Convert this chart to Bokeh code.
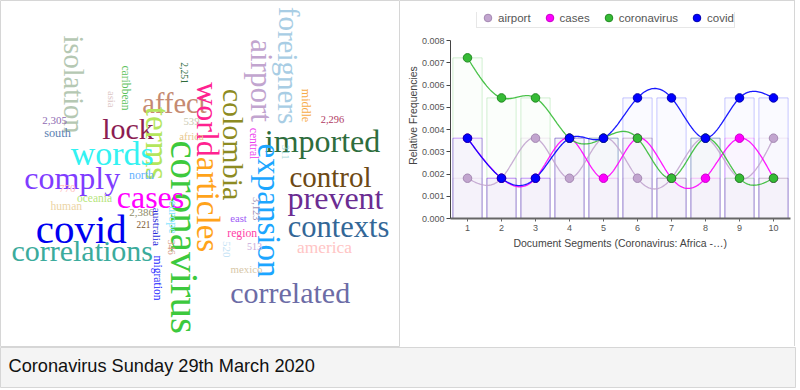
import numpy as np
from bokeh.plotting import figure
from bokeh.layouts import column, row
from bokeh.models import (Range1d, FixedTicker, NumeralTickFormatter, Legend,
                          LegendItem, ColumnDataSource)
from bokeh.core.properties import value
from bokeh.embed import file_html
from bokeh.resources import INLINE

# ---------------- data : trends ----------------
segments = [1, 2, 3, 4, 5, 6, 7, 8, 9, 10]
terms = ["airport", "cases", "coronavirus", "covid"]
airport = [0.00181, 0.00181, 0.00361, 0.00181, 0.00361, 0.00181, 0.00181, 0.00361, 0.00181, 0.00361]
cases = [0.00361, 0.00181, 0.00181, 0.00361, 0.00181, 0.00361, 0.00181, 0.00181, 0.00361, 0.00181]
coronavirus = [0.00722, 0.00542, 0.00542, 0.00361, 0.00361, 0.00361, 0.00181, 0.00361, 0.00181, 0.00181]
covid = [0.00361, 0.00181, 0.00181, 0.00361, 0.00361, 0.00542, 0.00542, 0.00361, 0.00542, 0.00542]
y_ticks = [0.000, 0.001, 0.002, 0.003, 0.004, 0.005, 0.006, 0.007, 0.008]
x_label = "Document Segments (Coronavirus: Africa -\u2026)"
y_label = "Relative Frequencies"
caption = "Coronavirus Sunday 29th March 2020"

# ---------------- data : word cloud ----------------
cloud_words = ["foreigners", "airport", "isolation", "caribbean", "asia", "2,251", "affect",
               "world", "articles", "colombia", "middle", "2,296", "lock", "terms", "2,305",
               "south", "539", "africa", "central", "imported", "words", "311", "coronavirus",
               "expansion", "control", "comply", "north", "prevent", "cases", "770", "oceania",
               "human", "3,123", "covid", "2,386", "australia", "europe", "east", "contexts",
               "221", "region", "correlations", "america", "513", "346", "520", "migration",
               "mexico", "correlated"]

# layout of the cloud (reference pixel frame): size, colour, x, y, vertical
cloud_size = [29, 31, 28.5, 11.6, 10.7, 9.5, 28.5,
              32, 33, 30, 12, 10.4, 30, 33, 11,
              12.3, 10.7, 10.7, 11.6, 32, 34, 10, 41,
              33, 29, 32, 11.8, 32, 32, 11, 11.5,
              11.6, 10.4, 41, 11, 11.3, 12.2, 10.7, 30.5,
              9.3, 11.7, 30, 17.4, 10, 10, 11, 11.6,
              10.8, 30]
cloud_color = ["#a8cde4", "#c2a5cf", "#b5c8b3", "#5cc25c", "#dcc6c6", "#2f6b3b", "#c58a72",
               "#ff2290", "#ffa31a", "#8d8b22", "#f7ab45", "#b0385f", "#8c1d52", "#b4e65c", "#8f6cb3",
               "#5a7fb2", "#cacab2", "#e8c78d", "#ee3cee", "#2e6d3d", "#33f2f2", "#9fd6d6", "#3dc93d",
               "#1ca6ff", "#6d4914", "#7f3dff", "#63b1ff", "#6b2c92", "#ff00ff", "#ffbdbd", "#b6e57c",
               "#ecd4a5", "#a191b6", "#0000f0", "#8f8e6a", "#2828da", "#8ae5ff", "#9e5cf6", "#336797",
               "#7c5731", "#ff42a8", "#3bab9c", "#ffc5c5", "#caa9da", "#d9a08c", "#c5e3f5", "#2424ff",
               "#d7c7a7", "#6c6ca6"]
cloud_x = [288, 261, 72.7, 124.7, 111.5, 184, 174,
           207, 207, 233.3, 305.7, 332, 127.5, 156.7, 54,
           57, 191, 191, 253.3, 322, 111.7, 285, 184.3,
           268.3, 330, 71.7, 141, 335, 150, 66.7, 94,
           65.8, 256, 80.8, 141, 156.7, 172, 238, 338,
           143, 241.7, 81.7, 324, 254, 170.7, 226, 156.7,
           246, 289.7]
cloud_y = [65, 80, 84, 87.5, 98.7, 72.5, 103,
           119, 204, 144, 105, 119.3, 127.7, 143, 120,
           132.7, 120.7, 135, 143, 140.7, 152.7, 151.7, 236.7,
           210, 176.7, 177, 174, 197.7, 196.7, 188, 197,
           205.7, 208.3, 228.3, 211.7, 226.3, 216.7, 217.3, 226.7,
           224, 233.3, 250, 246, 245.7, 246.7, 248.7, 277.5,
           268.7, 292.3]
cloud_vertical = [1, 1, 1, 1, 1, 1, 0,
                  1, 1, 1, 1, 0, 0, 1, 0,
                  0, 0, 0, 1, 0, 0, 1, 1,
                  1, 0, 0, 0, 0, 0, 0, 0,
                  0, 1, 0, 0, 1, 1, 0, 0,
                  0, 0, 0, 0, 0, 1, 1, 1,
                  0, 0]

SANS = "Liberation Sans"
SERIF = "Liberation Serif"
BORDER = "#d6d6d6"

# ---------------- word cloud panel ----------------
wc = figure(width=400, height=347, x_range=Range1d(0, 400), y_range=Range1d(347, 0),
            x_axis_type=None, y_axis_type=None, min_border=0, frame_align=False,
            output_backend="svg", toolbar_location=None)
wc.grid.visible = False
wc.outline_line_color = BORDER
wc.background_fill_color = "white"
wc_src = ColumnDataSource(dict(
    x=cloud_x, y=cloud_y, text=cloud_words, color=cloud_color,
    size=["%.1fpx" % s for s in cloud_size],
    angle=[-np.pi / 2 if v else 0.0 for v in cloud_vertical]))
wc.text(x="x", y="y", text="text", source=wc_src, text_color="color",
        text_font_size="size", angle="angle", text_align="center",
        text_baseline="alphabetic", text_font=value(SERIF))

# ---------------- trends panel ----------------
series = [airport, cases, coronavirus, covid]
colors = ["#c2a5cf", "#ff00ff", "#36bb36", "#0000ff"]
edges = ["#a488b2", "#c800c8", "#218a21", "#0000b0"]

Y_MAX = 0.008
FRAME_H, AXIS_H = 206, 178          # frame height / height of the 0..0.008 axis in px
y_top = Y_MAX * FRAME_H / AXIS_H    # room above the axis for the legend

p = figure(width=395, height=346, x_range=Range1d(0.5, 10.5), y_range=Range1d(0, y_top),
           output_backend="svg", toolbar_location=None, frame_align=False,
           min_border_left=50, min_border_right=5, min_border_top=11,
           min_border_bottom=346 - 11 - FRAME_H,
           styles={"border-top": "1px solid " + BORDER, "border-right": "1px solid " + BORDER})
p.grid.visible = False
p.outline_line_color = None

for vals, col in zip(series, colors):
    p.vbar(x=segments, top=vals, width=0.86, fill_color=col, fill_alpha=0.02,
           line_color=col, line_alpha=0.22, line_width=1)


def natural_spline(xs, ys, n=30):
    x = np.asarray(xs, float)
    y = np.asarray(ys, float)
    k = len(x)
    h = np.diff(x)
    A = np.zeros((k, k))
    r = np.zeros(k)
    A[0, 0] = A[-1, -1] = 1.0
    for i in range(1, k - 1):
        A[i, i - 1] = h[i - 1]
        A[i, i] = 2 * (h[i - 1] + h[i])
        A[i, i + 1] = h[i]
        r[i] = 6 * ((y[i + 1] - y[i]) / h[i] - (y[i] - y[i - 1]) / h[i - 1])
    M = np.linalg.solve(A, r)
    xx, yy = [], []
    for i in range(k - 1):
        t = np.linspace(0, 1, n, endpoint=(i == k - 2))
        s = ((1 - t) * y[i] + t * y[i + 1]
             + h[i] ** 2 / 6 * (((1 - t) ** 3 - (1 - t)) * M[i] + (t ** 3 - t) * M[i + 1]))
        xx.extend(x[i] + t * h[i])
        yy.extend(s)
    return xx, yy


for vals, col in zip(series, colors):
    sx, sy = natural_spline(segments, vals)
    p.line(sx, sy, line_color=col, line_width=1.3, line_alpha=0.9)

dots = []
for vals, col, ed in zip(series, colors, edges):
    dots.append(p.scatter(segments, vals, size=8.5, fill_color=col, line_color=ed, line_width=1))

legend = Legend(items=[LegendItem(label=t, renderers=[r]) for t, r in zip(terms, dots)],
                location=(26, 190), orientation="horizontal",
                glyph_width=21, glyph_height=19, label_height=19, label_standoff=0,
                spacing=8, padding=0, margin=0,
                label_text_font=SANS, label_text_font_size="11.5px", label_text_color="#555555",
                border_line_color="#cfcfcf", border_line_width=1,
                background_fill_color="white", background_fill_alpha=1)
p.add_layout(legend)

p.xaxis.ticker = FixedTicker(ticks=segments)
p.yaxis.ticker = FixedTicker(ticks=y_ticks)
p.yaxis.bounds = (0, Y_MAX)
p.yaxis.formatter = NumeralTickFormatter(format="0.000")
p.xaxis.axis_label = x_label
p.yaxis.axis_label = y_label
for ax in (p.xaxis[0], p.yaxis[0]):
    ax.minor_tick_line_color = None
    ax.major_tick_in = 0
    ax.major_label_text_font = SANS
    ax.major_label_text_font_size = "9px"
    ax.major_label_text_color = "#555555"
    ax.axis_label_text_font = SANS
    ax.axis_label_text_font_size = "10.5px"
    ax.axis_label_text_font_style = "normal"
    ax.axis_label_text_color = "#444444"
    ax.major_label_standoff = 3
    ax.axis_label_standoff = 3
p.yaxis.major_label_standoff = 2
p.yaxis.axis_label_standoff = 0
p.yaxis.major_tick_out = 4
p.xaxis.major_tick_out = 3
p.yaxis.axis_line_color = "#444444"
p.yaxis.major_tick_line_color = "#444444"
p.xaxis.axis_line_color = "#666666"
p.xaxis.axis_line_width = 2
p.xaxis.major_tick_line_color = "#666666"

# ---------------- caption bar ----------------
cap = figure(width=796, height=41, x_range=Range1d(0, 796), y_range=Range1d(0, 41),
             x_axis_type=None, y_axis_type=None, min_border=0, frame_align=False,
             output_backend="svg", toolbar_location=None)
cap.grid.visible = False
cap.background_fill_color = "#f4f4f4"
cap.border_fill_color = "#f4f4f4"
cap.outline_line_color = BORDER
cap.text(x=[8], y=[23], text=[caption], text_baseline="middle", text_align="left",
         text_font=value(SANS), text_font_size="18.2px", text_color="#111111")

layout = column(row(wc, p, spacing=0), cap, spacing=0)
open("out.html", "w").write(file_html(layout, INLINE))
